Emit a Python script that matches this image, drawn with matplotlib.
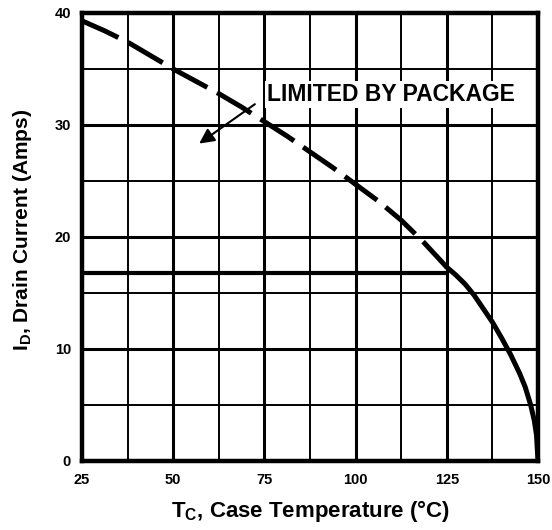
import matplotlib.pyplot as plt
import numpy as np

t_pkg = [25, 31.25, 37.5, 43.75, 50, 56.25, 62.5, 68.75, 75, 81.25, 87.5,
         93.75, 100, 106.25, 112.5, 118.75, 125]
i_pkg = [39.3, 38.4, 37.4, 36.2, 35.0, 33.9, 32.8, 31.6, 30.3, 29.0, 27.6,
         26.2, 24.7, 23.2, 21.5, 19.5, 17.3]
t_die = [125, 127.5, 130, 132.5, 135, 137.5, 140, 142.5, 145, 146.5, 148, 149, 149.6, 150]
i_die = [17.3, 16.6, 15.8, 14.8, 13.6, 12.4, 11.0, 9.5, 7.8, 6.6, 5.0, 3.6, 2.3, 0]
limit_y = 16.8

x_ticks = [25, 50, 75, 100, 125, 150]
y_ticks = [0, 10, 20, 30, 40]

plt.rcParams['font.family'] = ['Liberation Sans', 'DejaVu Sans']
plt.rcParams['font.weight'] = 'bold'

fig = plt.figure(figsize=(5.52, 5.30), dpi=100)
ax = fig.add_axes([0.1486, 0.1302, 0.826, 0.8453])

ax.set_xlim(25, 150)
ax.set_ylim(0, 40)

# grid
for x in np.arange(37.5, 150, 12.5):
    lw = 2.2 if x % 25 == 0 else 1.4
    ax.axvline(x, color='black', lw=lw, zorder=1)
for y in np.arange(5, 40, 5):
    lw = 2.2 if y % 10 == 0 else 1.4
    ax.axhline(y, color='black', lw=lw, zorder=1)

ax.plot([25, 125], [limit_y, limit_y], color='black', lw=3.0, zorder=2)

ax.plot(t_pkg, i_pkg, color='black', lw=3.6, dashes=(8, 2.2), zorder=3,
        solid_capstyle='butt')
ax.plot(t_die, i_die, color='black', lw=3.6, zorder=3, solid_capstyle='round')

ax.text(75.7, 32.7, 'LIMITED BY PACKAGE', fontsize=16.5, fontweight='bold',
        ha='left', va='center', zorder=4,
        bbox=dict(facecolor='white', edgecolor='none', pad=1.5))
ax.annotate('', xy=(56.5, 28.2), xytext=(73.0, 32.0),
            arrowprops=dict(arrowstyle='-|>,head_length=0.9,head_width=0.45',
                            color='black', lw=1.5), zorder=4)

ax.set_xticks(x_ticks)
ax.set_yticks(y_ticks)
ax.tick_params(length=0, labelsize=10.5)
ax.tick_params(axis='x', pad=9)
ax.tick_params(axis='y', pad=8)
for lab in ax.get_xticklabels() + ax.get_yticklabels():
    lab.set_fontweight('bold')

for s in ax.spines.values():
    s.set_linewidth(3.2)

ax.set_xlabel('T$_\\mathregular{C}$, Case Temperature (°C)', fontsize=16,
              fontweight='bold')
ax.xaxis.set_label_coords(0.5, -0.083)
ax.set_ylabel('I$_\\mathregular{D}$, Drain Current (Amps)', fontsize=15,
              fontweight='bold')
ax.yaxis.set_label_coords(-0.105, 0.516)

plt.savefig('out.png', dpi=100)
